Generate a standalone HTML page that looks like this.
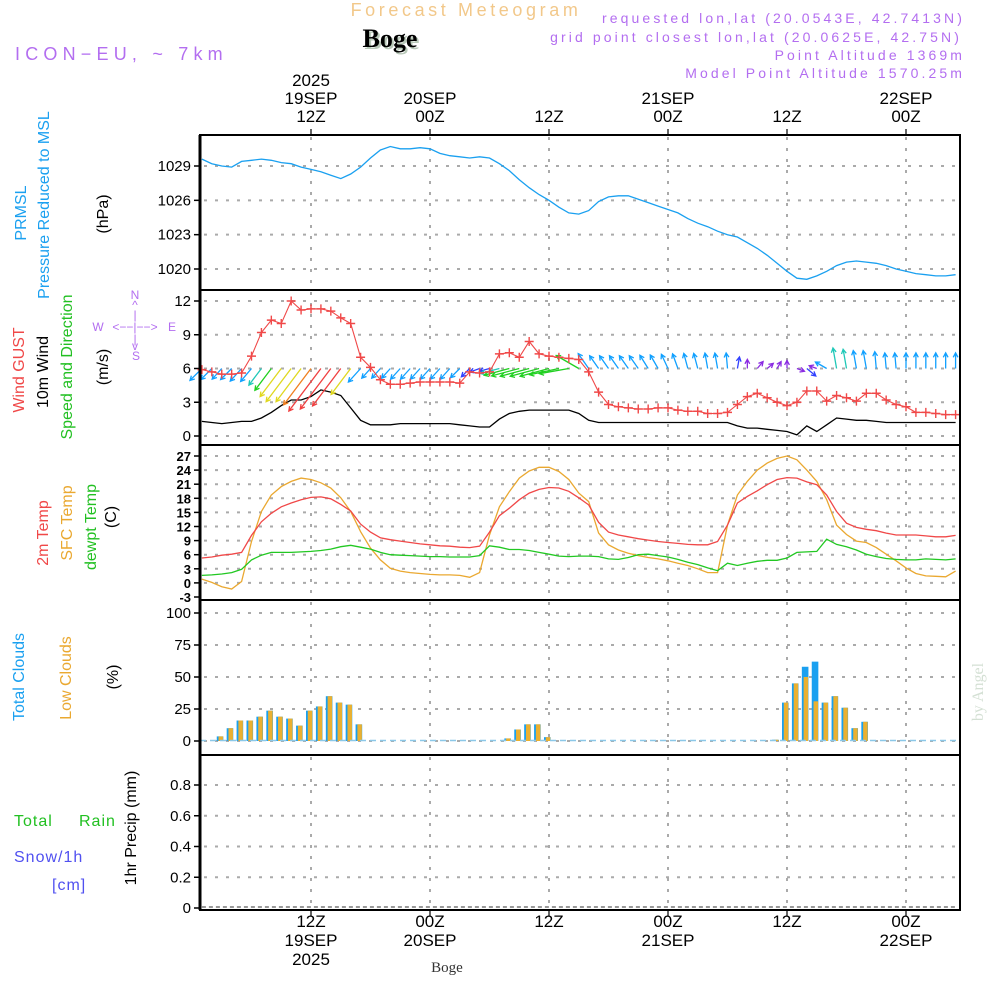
<!DOCTYPE html>
<html><head><meta charset="utf-8"><style>
html,body{margin:0;padding:0;background:#fff;width:1000px;height:1000px;overflow:hidden}
svg{display:block}
text{font-family:"Liberation Sans Narrow","Liberation Sans",sans-serif}
</style></head><body>
<svg id="chart" width="1000" height="1000" viewBox="0 0 1000 1000" xmlns="http://www.w3.org/2000/svg">
<g id="bg"></g>
<!-- titles -->
<text x="466" y="16" text-anchor="middle" font-size="18" fill="#f2c88a" letter-spacing="3.6">Forecast Meteogram</text>
<text x="392" y="49" text-anchor="middle" font-size="26" font-weight="bold" style="font-family:'Liberation Serif',serif" fill="#b8c8b8">Boge</text>
<text x="390" y="47" text-anchor="middle" font-size="26" font-weight="bold" style="font-family:'Liberation Serif',serif" fill="#000">Boge</text>
<text x="15" y="60" font-size="18" fill="#b36ef0" letter-spacing="5.2">ICON−EU, ~ 7km</text>
<g font-size="14" fill="#b36ef0" text-anchor="end" letter-spacing="3.1">
<text x="965" y="23">requested lon,lat (20.0543E, 42.7413N)</text>
<text x="962" y="42">grid point closest lon,lat (20.0625E, 42.75N)</text>
<text x="965" y="60">Point Altitude 1369m</text>
<text x="965" y="78">Model Point Altitude 1570.25m</text>
</g>
<g id="plots"></g>
<!-- left labels -->
<g font-size="16">
<text transform="translate(26,213) rotate(-90)" text-anchor="middle" fill="#1aa0f0">PRMSL</text>
<text transform="translate(49,205) rotate(-90)" text-anchor="middle" fill="#1aa0f0">Pressure Reduced to MSL</text>
<text transform="translate(108,214) rotate(-90)" text-anchor="middle" fill="#000">(hPa)</text>
<text transform="translate(24,370) rotate(-90)" text-anchor="middle" fill="#f04848">Wind GUST</text>
<text transform="translate(48,372) rotate(-90)" text-anchor="middle" fill="#000">10m Wind</text>
<text transform="translate(72,367) rotate(-90)" text-anchor="middle" fill="#22c022">Speed and Direction</text>
<text transform="translate(108,367) rotate(-90)" text-anchor="middle" fill="#000">(m/s)</text>
<text transform="translate(48,533) rotate(-90)" text-anchor="middle" fill="#f04848">2m Temp</text>
<text transform="translate(72,523) rotate(-90)" text-anchor="middle" fill="#eaa830">SFC Temp</text>
<text transform="translate(96,527) rotate(-90)" text-anchor="middle" fill="#22c022">dewpt Temp</text>
<text transform="translate(116,517) rotate(-90)" text-anchor="middle" fill="#000">(C)</text>
<text transform="translate(24,677) rotate(-90)" text-anchor="middle" fill="#1aa0f0">Total Clouds</text>
<text transform="translate(71,678) rotate(-90)" text-anchor="middle" fill="#eaa830">Low Clouds</text>
<text transform="translate(118,677) rotate(-90)" text-anchor="middle" fill="#000">(%)</text>
<text transform="translate(136,828) rotate(-90)" text-anchor="middle" fill="#000">1hr Precip (mm)</text>
<text x="14" y="826" fill="#22c022" letter-spacing="1">Total</text>
<text x="79" y="826" fill="#22c022" letter-spacing="1">Rain</text>
<text x="14" y="862" fill="#5050f0" letter-spacing="1">Snow/1h</text>
<text x="52" y="890" fill="#5050f0" letter-spacing="1">[cm]</text>
</g>
<g fill="#b36ef0" font-size="12" text-anchor="middle">
<text x="135" y="299">N</text><text x="135" y="309">^</text><text x="135" y="319">|</text>
<text x="98" y="331">W</text><text x="135" y="331">&lt;−−|−−&gt;</text><text x="172" y="331">E</text>
<text x="135" y="343">|</text><text x="135" y="350">v</text><text x="136" y="360">S</text>
</g>
<text transform="translate(983,692) rotate(-90)" text-anchor="middle" font-size="16" fill="#d4e0d4" style="font-family:'Liberation Serif',serif">by Angel</text>
<text x="447" y="972" text-anchor="middle" font-size="15" style="font-family:'Liberation Serif',serif" fill="#333">Boge</text>
</svg>
<script>
const hours = Array.from({length:77},(_,i)=>i+1);
const pressure = [1029.6,1029.2,1029.0,1028.9,1029.4,1029.5,1029.6,1029.5,1029.3,1029.2,1028.9,1028.7,1028.5,1028.2,1027.9,1028.3,1028.9,1029.7,1030.4,1030.7,1030.5,1030.5,1030.6,1030.5,1030.1,1029.9,1029.8,1029.7,1029.8,1029.7,1029.2,1028.6,1027.8,1027.1,1026.5,1026.0,1025.4,1024.9,1024.8,1025.1,1025.9,1026.3,1026.4,1026.4,1026.1,1025.8,1025.5,1025.2,1024.9,1024.4,1024.0,1023.7,1023.3,1023.0,1022.8,1022.3,1021.8,1021.2,1020.5,1019.8,1019.2,1019.1,1019.4,1019.8,1020.3,1020.6,1020.7,1020.6,1020.5,1020.3,1020.0,1019.8,1019.6,1019.5,1019.4,1019.4,1019.5];
const gust = [5.9,5.7,5.5,5.5,5.6,7.1,9.2,10.3,10,12,11.2,11.3,11.3,11.1,10.5,10,7,6.1,5,4.6,4.6,4.7,4.8,4.8,4.8,4.8,4.7,5.7,5.6,5.7,7.3,7.4,7,8.4,7.3,7.1,7,6.9,6.8,5.7,3.9,2.8,2.6,2.5,2.4,2.4,2.5,2.5,2.3,2.2,2.2,2,2,2.1,2.8,3.5,3.8,3.4,3,2.7,3,4,4,3.1,3.6,3.4,3.1,3.8,3.8,3.2,2.8,2.6,2.1,2.1,2,1.9,1.9];
const windSpeed = [1.3,1.2,1.1,1.2,1.3,1.3,1.6,2.1,2.7,3.2,3.2,3.5,4.1,3.9,3.6,2.5,1.4,1.0,1.0,1.0,1.1,1.1,1.1,1.1,1.1,1.1,1.0,0.9,0.8,0.8,1.5,2.0,2.2,2.3,2.3,2.3,2.3,2.3,2.0,1.4,1.2,1.2,1.2,1.2,1.2,1.2,1.2,1.2,1.2,1.2,1.2,1.2,1.2,1.2,0.9,0.7,0.7,0.6,0.5,0.4,0.1,0.9,0.4,1.0,1.6,1.5,1.4,1.4,1.3,1.2,1.2,1.2,1.2,1.2,1.2,1.2,1.2];
const windDir = [225,225,228,225,228,230,233,233,233,233,233,233,233,233,233,233,228,228,228,228,228,228,228,228,228,228,225,225,200,195,195,195,195,195,195,195,192,190,150,125,125,125,125,125,125,122,120,115,110,105,105,100,100,95,80,90,50,40,60,90,340,320,160,150,100,100,100,100,95,95,95,90,90,90,90,90,90];
const temp2m = [5.3,5.5,5.9,6.1,6.5,10.1,13.0,14.8,16.2,17.0,17.7,18.2,18.3,17.9,16.7,15.3,12.5,10.8,9.6,9.2,8.9,8.6,8.3,8.1,7.9,7.8,7.6,7.5,7.8,10.8,14.3,15.9,17.7,19.1,19.9,20.3,20.2,19.5,18.1,16.6,12.9,10.8,10.2,9.8,9.4,9.1,8.8,8.6,8.4,8.2,8.1,8.1,8.8,12.3,17.0,18.4,19.6,20.9,22.0,22.4,22.3,21.5,20.9,18.7,15.2,12.7,11.8,11.4,11.1,10.6,10.2,10.2,10.2,10.0,9.8,9.8,10.1];
const tempSfc = [0.8,0.1,-0.8,-1.3,0.3,8.8,15.2,18.7,20.5,21.6,22.3,22.0,21.3,20.2,18.1,15.2,10.9,7.4,4.9,3.1,2.5,2.2,2.0,1.8,1.7,1.7,1.6,1.2,2.2,10.2,16.2,19.4,22.3,23.8,24.6,24.6,23.7,22.0,19.1,17.3,10.6,8.1,7.0,6.3,5.8,5.4,5.1,4.7,4.2,3.7,3.0,2.2,2.2,12.3,18.7,21.6,24.0,25.5,26.5,27.0,26.2,24.0,21.6,17.7,12.3,10.3,8.9,8.6,7.5,6.1,4.7,3.2,2.0,1.5,1.4,1.3,2.5];
const dewpt = [1.6,1.7,1.9,2.2,2.9,4.9,5.9,6.5,6.5,6.5,6.6,6.7,6.9,7.2,7.7,8.0,7.6,7.2,6.5,6.0,5.9,5.8,5.7,5.6,5.6,5.5,5.5,5.5,5.8,7.9,7.6,7.1,7.1,6.9,6.5,6.1,5.7,5.6,5.7,5.7,5.6,5.1,5.0,5.4,6.0,6.1,5.8,5.5,5.0,4.4,3.9,3.2,2.6,4.2,3.7,4.2,4.6,4.8,4.8,5.3,6.5,6.6,6.7,9.3,8.2,7.7,7.0,6.1,5.6,5.2,5.0,4.9,4.9,5.1,5.0,4.9,5.1];
const totalClouds = [0,0,3.6,10,16,16,19,23.7,19,17.5,12,23.7,27,35,30,28.4,13,0,0,0,0,0,0,0,0,0,0,0,0,0,0,2,9,13,13,3,0,0,0,0,0,0,0,0,0,0,0,0,0,0,0,0,0,0,0,0,0,0,1,30,45,58,62,30,35,26,10,15,0,0,0,0,0,0,0,0,0];
const lowClouds = [0,0,3.6,10,16,16,19,23.7,19,17.5,12,23.7,27,35,30,28.4,13,0,0,0,0,0,0,0,0,0,0,0,0,0,0,2,9,13,13,3,0,0,0,0,0,0,0,0,0,0,0,0,0,0,0,0,0,0,0,0,0,0,1,30,45,50,31,30,35,26,10,15,0,0,0,0,0,0,0,0,0];
const precip = new Array(77).fill(0);
const pressureTicks = [1020,1023,1026,1029];
const windTicks = [0,3,6,9,12];
const tempTicks = [-3,0,3,6,9,12,15,18,21,24,27];
const cloudTicks = [0,25,50,75,100];
const precipTicks = [0,0.2,0.4,0.6,0.8];
const timeTicksTop = [{h:12,l:["2025","19SEP","12Z"]},{h:24,l:["20SEP","00Z"]},{h:36,l:["12Z"]},{h:48,l:["21SEP","00Z"]},{h:60,l:["12Z"]},{h:72,l:["22SEP","00Z"]}];
const timeTicksBottom = [{h:12,l:["12Z","19SEP","2025"]},{h:24,l:["00Z","20SEP"]},{h:36,l:["12Z"]},{h:48,l:["00Z","21SEP"]},{h:60,l:["12Z"]},{h:72,l:["00Z","22SEP"]}];

const NS="http://www.w3.org/2000/svg";
const root=document.getElementById('plots');
const X0=200,X1=960;
function x(h){return 311+(h-12)*(119/12);}
function lin(d0,d1,r0,r1){return v=>r0+(v-d0)*(r1-r0)/(d1-d0);}
const yP=lin(1029,1020,166,269);
const yW=lin(0,12,436,301);
const yT=lin(-3,27,597,456);
const yC=lin(0,100,741,613);
const yR=lin(0,0.8,908,785);
function el(tag,attrs,parent){const e=document.createElementNS(NS,tag);for(const k in attrs)e.setAttribute(k,attrs[k]);(parent||root).appendChild(e);return e;}
const panels=[{t:135,b:290,y:yP,ticks:pressureTicks,name:'pressure'},{t:290,b:445,y:yW,ticks:windTicks,name:'wind'},{t:445,b:600,y:yT,ticks:tempTicks,name:'temperature'},{t:600,b:755,y:yC,ticks:cloudTicks,name:'clouds'},{t:755,b:910,y:yR,ticks:precipTicks,name:'precip'}];
panels.forEach(p=>{
  const g=el('g',{});
  
  
  p.g=g;
  p.ticks.forEach(v=>{
    const yy=p.y(v);
    if(yy>p.t+3&&yy<p.b-3){
      const gl=el('line',{x1:X0+4,x2:X1,y1:yy,y2:yy,stroke:'#aaa','stroke-width':2,'stroke-dasharray':'3,8'},g);
      
      
    }
    el('line',{x1:X0-6,x2:X0,y1:yy,y2:yy,stroke:'#000','stroke-width':1.5},g);
    const fs=p.name==='temperature'?13:15;
    const t=el('text',{x:X0-9,y:yy+5,'text-anchor':'end','font-size':fs,fill:'#000','font-weight':p.name==='temperature'?'bold':'normal'},g);
    t.textContent=String(v);
    
    
  });
  timeTicksTop.forEach(tk=>{
    const vl=el('line',{x1:x(tk.h),x2:x(tk.h),y1:p.t+2,y2:p.b,stroke:'#aaa','stroke-width':2,'stroke-dasharray':'3,8'},g);
    
    
  });
});
function series(arr,yf,color,name,w){
  const d=arr.map((v,i)=>(i?'L':'M')+x(hours[i]).toFixed(1)+','+yf(v).toFixed(1)).join('');
  const p=el('path',{d:d,fill:'none',stroke:color,'stroke-width':w||1.3});
  
  
  return p;
}
series(pressure,yP,'#1aa0f0','pressure-line');
hours.forEach((h,i)=>{
  const cx=x(h);
  if(totalClouds[i]>0){
    const b=el('rect',{x:cx-5,y:yC(totalClouds[i]),width:6.6,height:yC(0)-yC(totalClouds[i]),fill:'#1aa0f0'});
    
    
  }
  if(lowClouds[i]>0){
    const b=el('rect',{x:cx-3.2,y:yC(lowClouds[i]),width:4.5,height:yC(0)-yC(lowClouds[i]),fill:'#eab030'});
    
    
  }
});
const zl=el('line',{x1:X0,x2:X1,y1:yC(0)-0.5,y2:yC(0)-0.5,stroke:'#8cc8e8','stroke-width':1.5,'stroke-dasharray':'6,4'});


const pl=el('path',{d:precip.map((v,i)=>(i?'L':'M')+x(hours[i]).toFixed(1)+','+(yR(v)-1).toFixed(1)).join(''),fill:'none',stroke:'#333','stroke-width':1,'stroke-dasharray':'4,3'});


series(tempSfc,yT,'#eaa830','sfc-temp-line');
series(temp2m,yT,'#f04848','temp-2m-line');
series(dewpt,yT,'#22c822','dewpt-line');
series(windSpeed,yW,'#000','wind-speed-line');
function wcol(s){if(s<0.8)return '#8a2be2';if(s<1.0)return '#3040ff';if(s<1.5)return '#10a0ff';if(s<1.8)return '#20c8b8';if(s<2.45)return '#20d020';if(s<3.3)return '#e0d820';if(s<3.6)return '#f08020';return '#f04040';}
hours.forEach((h,i)=>{
  const s=windSpeed[i],a=windDir[i]*Math.PI/180;
  const L=Math.max(8,13*s);
  const tx=x(h),ty=yW(6);
  const hx=tx+L*Math.cos(a),hy=ty-L*Math.sin(a);
  const c=wcol(s);
  const g=el('g',{stroke:c,'stroke-width':1.3,fill:'none'});
  
  
  const hl=5;
  const b1=a+Math.PI-0.5,b2=a+Math.PI+0.5;
  el('path',{d:`M${tx},${ty}L${hx},${hy}M${hx+hl*Math.cos(b1)},${hy-hl*Math.sin(b1)}L${hx},${hy}L${hx+hl*Math.cos(b2)},${hy-hl*Math.sin(b2)}`},g);
});
series(gust,yW,'#f04848','wind-gust-line',1.1);
hours.forEach((h,i)=>{
  const cx=x(h),cy=yW(gust[i]);
  const m=el('path',{d:`M${cx-4.5},${cy}H${cx+4.5}M${cx},${cy-4.5}V${cy+4.5}`,stroke:'#f04848','stroke-width':1.4});
  
  
});
panels.forEach(p=>{
  const r=el('rect',{x:X0,y:p.t,width:X1-X0,height:p.b-p.t,fill:'none',stroke:'#000','stroke-width':2});
  
  
});
el('line',{x1:X0,x2:X0,y1:135,y2:910,stroke:'#000','stroke-width':3});
timeTicksTop.forEach(tk=>{
  const cx=x(tk.h);
  el('line',{x1:cx,x2:cx,y1:129,y2:135,stroke:'#000','stroke-width':1.2});
  tk.l.forEach((s,j)=>{
    const t=el('text',{x:cx,y:128-6-(tk.l.length-1-j)*18,'text-anchor':'middle','font-size':17,fill:'#000'});
    t.textContent=s;
    
    
  });
});
timeTicksBottom.forEach(tk=>{
  const cx=x(tk.h);
  el('line',{x1:cx,x2:cx,y1:910,y2:916,stroke:'#000','stroke-width':1.2});
  tk.l.forEach((s,j)=>{
    const t=el('text',{x:cx,y:927+j*19,'text-anchor':'middle','font-size':17,fill:'#000'});
    t.textContent=s;
    
    
  });
});
</script>
</body></html>
